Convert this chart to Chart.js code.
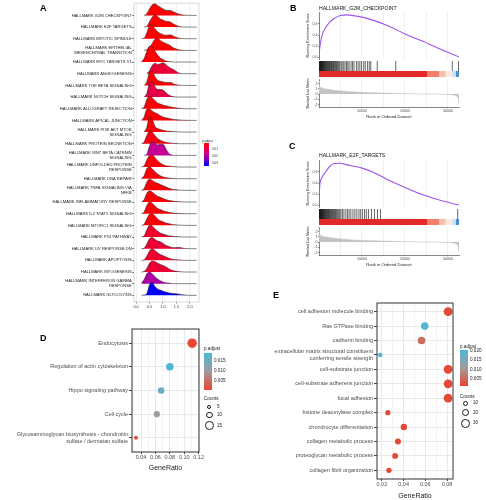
<!DOCTYPE html>
<html>
<head>
<meta charset="utf-8">
<script src="https://cdn.jsdelivr.net/npm/chart.js@4.4.1/dist/chart.umd.min.js"></script>
<style>
  body { margin: 0; background: #fff; }
  #fig { position: relative; width: 486px; height: 500px; overflow: hidden; font-family: "Liberation Sans", Arial, sans-serif; }
  #fig canvas { position: absolute; }
  .t { position: absolute; white-space: nowrap; line-height: 1; color: #222; transform-origin: 0 0; }
  .dot { position: absolute; border: 0.7px solid #1a1a1a; border-radius: 50%; box-sizing: border-box; background: #fff; }
  .bar { position: absolute; }
</style>
</head>
<body>
<div id="fig"></div>
<script>
// ---------- panel A: ridgeline of hallmark gene sets ----------
const RIDGE_TERMS = [
  'HALLMARK G2M CHECKPOINT', 'HALLMARK E2F TARGETS', 'HALLMARK MITOTIC SPINDLE',
  ['HALLMARK EPITHELIAL', 'MESENCHYMAL TRANSITION'], 'HALLMARK MYC TARGETS V1',
  'HALLMARK ANGIOGENESIS', 'HALLMARK TGF BETA SIGNALING', 'HALLMARK NOTCH SIGNALING',
  'HALLMARK ALLOGRAFT REJECTION', 'HALLMARK APICAL JUNCTION', ['HALLMARK PI3K AKT MTOR', 'SIGNALING'],
  'HALLMARK PROTEIN SECRETION', ['HALLMARK WNT BETA CATENIN', 'SIGNALING'],
  ['HALLMARK UNFOLDED PROTEIN', 'RESPONSE'], 'HALLMARK DNA REPAIR', ['HALLMARK TNFA SIGNALING VIA', 'NFKB'],
  'HALLMARK INFLAMMATORY RESPONSE', 'HALLMARK IL2 STAT5 SIGNALING', 'HALLMARK MTORC1 SIGNALING',
  'HALLMARK P53 PATHWAY', 'HALLMARK UV RESPONSE DN', 'HALLMARK APOPTOSIS', 'HALLMARK MYOGENESIS',
  ['HALLMARK INTERFERON GAMMA', 'RESPONSE'], 'HALLMARK GLYCOLYSIS'
];
const RIDGE_P = [0.0015, 0.0015, 0.0015, 0.0015, 0.0015, 0.007, 0.002, 0.009, 0.002, 0.002, 0.002, 0.003,
  0.018, 0.002, 0.002, 0.002, 0.002, 0.002, 0.002, 0.006, 0.007, 0.006, 0.007, 0.02, 0.0343];
const RIDGE_X = [0.2, 0.3, 0.4, 0.5, 0.6, 0.7, 0.8, 0.9, 1.0, 1.1, 1.2, 1.3, 1.4, 1.6, 1.8, 2.0, 2.25];
const RIDGE_H = [
  [null, 0, 0.15, 0.55, 0.9, 1.0, 0.85, 0.7, 0.55, 0.45, 0.42, 0.4, 0.3, 0.1, 0.02, 0, 0],
  [null, 0, 0.05, 0.45, 0.85, 1.05, 0.9, 0.7, 0.6, 0.5, 0.48, 0.4, 0.25, 0.05, 0, 0, 0],
  [0, 0.05, 0.5, 1.1, 1.15, 0.85, 0.6, 0.45, 0.35, 0.3, 0.32, 0.33, 0.2, 0.05, 0, 0, 0],
  [null, 0, 0.05, 0.25, 0.6, 0.95, 1.05, 0.85, 0.7, 0.6, 0.5, 0.35, 0.2, 0.05, 0, 0, 0],
  [0.02, 0.3, 0.9, 1.35, 1.3, 0.95, 0.6, 0.35, 0.2, 0.1, 0.05, 0.02, 0, 0, 0, 0, 0],
  [null, null, 0, 0.25, 0.7, 0.9, 0.8, 0.85, 0.95, 0.8, 0.6, 0.45, 0.35, 0.05, 0, 0, 0],
  [null, 0, 0.3, 1.1, 1.2, 0.75, 0.45, 0.35, 0.3, 0.25, 0.25, 0.25, 0.12, 0.02, 0, 0, 0],
  [null, 0, 0.3, 1.2, 1.3, 0.9, 0.65, 0.65, 0.6, 0.4, 0.2, 0.08, 0.02, 0, 0, 0, 0],
  [0, 0.15, 0.8, 1.1, 0.95, 0.7, 0.5, 0.4, 0.3, 0.25, 0.2, 0.15, 0.1, 0.03, 0, 0, 0],
  [0, 0.3, 0.95, 1.0, 0.8, 0.65, 0.55, 0.4, 0.3, 0.22, 0.18, 0.12, 0.08, 0.04, 0.01, 0, 0],
  [null, 0, 0.4, 1.35, 1.1, 0.5, 0.3, 0.22, 0.15, 0.1, 0.07, 0.05, 0.03, 0.01, 0, 0, 0],
  [0, 0.15, 0.7, 1.1, 1.0, 0.7, 0.45, 0.3, 0.2, 0.12, 0.08, 0.05, 0.03, 0, 0, 0, 0],
  [null, 0, 0.1, 0.8, 1.15, 1.05, 0.9, 0.95, 0.95, 0.6, 0.2, 0.05, 0, 0, 0, 0, 0],
  [0, 0.1, 0.6, 1.0, 1.05, 0.8, 0.55, 0.35, 0.2, 0.12, 0.08, 0.05, 0.03, 0, 0, 0, 0],
  [0, 0.25, 0.85, 1.0, 0.85, 0.6, 0.4, 0.25, 0.15, 0.1, 0.06, 0.03, 0.01, 0, 0, 0, 0],
  [0, 0.15, 0.7, 0.95, 0.85, 0.7, 0.6, 0.5, 0.4, 0.3, 0.2, 0.12, 0.07, 0.02, 0, 0, 0],
  [0, 0.2, 0.75, 0.95, 0.85, 0.65, 0.5, 0.4, 0.3, 0.22, 0.15, 0.1, 0.06, 0.02, 0, 0, 0],
  [0, 0.15, 0.7, 1.0, 0.9, 0.65, 0.45, 0.35, 0.25, 0.18, 0.12, 0.08, 0.05, 0.01, 0, 0, 0],
  [0, 0.1, 0.55, 0.95, 1.0, 0.8, 0.55, 0.4, 0.3, 0.2, 0.15, 0.1, 0.06, 0.02, 0, 0, 0],
  [0, 0.1, 0.6, 1.0, 0.95, 0.7, 0.5, 0.35, 0.25, 0.18, 0.12, 0.08, 0.05, 0.02, 0, 0, 0],
  [0, 0.05, 0.4, 0.85, 0.95, 0.8, 0.65, 0.6, 0.45, 0.3, 0.2, 0.12, 0.08, 0.1, 0.02, 0, 0],
  [0, 0.05, 0.35, 0.8, 1.0, 0.85, 0.65, 0.5, 0.4, 0.3, 0.2, 0.12, 0.08, 0.03, 0, 0, 0],
  [0, 0.05, 0.3, 0.75, 0.95, 0.9, 0.75, 0.65, 0.55, 0.45, 0.3, 0.18, 0.1, 0.03, 0, 0, 0],
  [0.05, 0.35, 0.85, 1.0, 0.85, 0.6, 0.4, 0.25, 0.15, 0.08, 0.05, 0.02, 0, 0, 0, 0, 0],
  [0, 0.02, 0.15, 0.9, 1.1, 0.75, 0.55, 0.45, 0.35, 0.28, 0.22, 0.18, 0.15, 0.1, 0.03, 0, 0]
];
const RIDGE_TICKS = [0, 0.5, 1.0, 1.5, 2.0];

// ---------- panels B / C: GSEA running score ----------
const N_GENES = 32560;
const ES_RANK = [0, 150, 700, 1500, 2500, 3500, 5000, 6500, 8500, 10000, 12500, 16000, 20000, 24000, 28000, 32560];
const ES_G2M = [0, 0.15, 0.39, 0.53, 0.635, 0.7, 0.755, 0.765, 0.745, 0.725, 0.67, 0.57, 0.42, 0.29, 0.15, 0];
const ES_E2F = [0, 0.33, 0.5, 0.6, 0.7, 0.755, 0.76, 0.73, 0.7, 0.67, 0.6, 0.46, 0.32, 0.19, 0.09, 0];
const ES_TICKS = [0, 0.2, 0.4, 0.6];
const HITS_G2M = [30, 90, 160, 240, 310, 390, 470, 560, 640, 730, 820, 920, 1010, 1120, 1220, 1330, 1440, 1560,
  1680, 1800, 1930, 2060, 2190, 2330, 2470, 2610, 2760, 2910, 3060, 3220, 3380, 3540, 3710, 3880, 4060, 4250,
  4450, 4650, 4850, 5150, 5400, 5750, 6050, 6400, 6700, 7000, 7450, 7800, 8150, 8700, 9100, 9500, 9900,
  10400, 10750, 11300, 11700, 12050, 13550, 17850, 31000, 32450];
const HITS_E2F = [20, 80, 150, 220, 300, 380, 460, 540, 630, 720, 810, 900, 1000, 1100, 1210, 1320, 1430, 1550,
  1670, 1790, 1920, 2050, 2190, 2330, 2480, 2630, 2790, 2950, 3110, 3280, 3450, 3630, 3810, 4000, 4200, 4400,
  4620, 4850, 5100, 5450, 5800, 6250, 6650, 7000, 7400, 7900, 8350, 8800, 9300, 9700, 10100, 10600, 11000,
  11500, 12200, 12900, 13600, 14300, 32250];
const BAND_START = [0, 25200, 27900, 29460, 31000, 31800];
const BAND_END = [25200, 27900, 29460, 31000, 31800, 32560];
const METRIC_RANK = [0, 100, 400, 1000, 2000, 3500, 5000, 7000, 9000, 12000, 15000, 18000, 21000, 24000, 27000,
  29000, 30500, 31500, 32100, 32400, 32560];
const METRIC_VAL = [2.4, 1.5, 1.25, 1.05, 0.9, 0.72, 0.58, 0.46, 0.36, 0.26, 0.18, 0.12, 0.07, 0.03, 0,
  -0.04, -0.1, -0.2, -0.4, -0.8, -2.1];
const METRIC_TICKS = [-2, -1, 0, 1, 2];
const RANK_GRID = [5000, 10000, 15000, 20000, 25000, 30000];
const RANK_TICKS = [10000, 20000, 30000];

// ---------- panel D: KEGG dot plot ----------
const D_TERMS = ['Endocytosis', 'Regulation of actin cytoskeleton', 'Hippo signaling pathway', 'Cell cycle',
  ['Glycosaminoglycan biosynthesis - chondroitin', 'sulfate / dermatan sulfate']];
const D_RATIO = [0.111, 0.080, 0.068, 0.062, 0.033];
const D_COUNT = [17, 12, 10, 9, 5];
const D_PADJ = [0.0008, 0.0185, 0.0158, 0.0108, 0.0015];
const D_GRID = [0.03, 0.04, 0.05, 0.06, 0.07, 0.08, 0.09, 0.10, 0.11, 0.12];
const D_TICKS = [0.04, 0.06, 0.08, 0.10, 0.12];

// ---------- panel E: GO dot plot ----------
const E_TERMS = ['cell adhesion molecule binding', 'Ras GTPase binding', 'cadherin binding',
  ['extracellular matrix structural constituent', 'conferring tensile strength'], 'cell-substrate junction',
  'cell-substrate adherens junction', 'focal adhesion', 'histone deacetylase complex',
  'chondrocyte differentiation', 'collagen metabolic process', 'proteoglycan metabolic process',
  'collagen fibril organization'];
const E_RATIO = [0.081, 0.0595, 0.0565, 0.0185, 0.081, 0.081, 0.081, 0.0255, 0.0402, 0.0348, 0.0322, 0.0265];
const E_COUNT = [30, 22, 21, 7, 30, 30, 30, 9, 15, 13, 12, 10];
const E_PADJ = [0.0015, 0.0195, 0.0055, 0.0195, 0.0015, 0.0015, 0.0015, 0.0015, 0.0015, 0.0015, 0.0015, 0.0015];
const E_GRID = [0.02, 0.03, 0.04, 0.05, 0.06, 0.07, 0.08];
const E_TICKS = [0.02, 0.04, 0.06, 0.08];

// ---------- helpers ----------
Chart.defaults.font.family = '"Liberation Sans", Arial, sans-serif';
Chart.defaults.color = '#333';
const fig = document.getElementById('fig');

function addCanvas(x, y, w, h) {
  const c = document.createElement('canvas');
  c.width = w; c.height = h;
  c.style.left = x + 'px'; c.style.top = y + 'px';
  c.style.width = w + 'px'; c.style.height = h + 'px';
  fig.appendChild(c);
  return c;
}

// tiny text is rendered large then scaled down so no minimum font size kicks in
function text(str, x, y, size, opt = {}) {
  const d = document.createElement('div');
  d.className = 't';
  d.textContent = str;
  d.style.left = x + 'px';
  d.style.top = y + 'px';
  d.style.fontSize = (size * 4) + 'px';
  const ax = opt.align === 'right' ? '-100%' : opt.align === 'center' ? '-50%' : '0';
  d.style.transform = `scale(0.25) translate(${ax}, -50%)`;
  if (opt.bold) d.style.fontWeight = 'bold';
  if (opt.color) d.style.color = opt.color;
  fig.appendChild(d);
}

function circle(cx, cy, r) {
  const d = document.createElement('div');
  d.className = 'dot';
  d.style.left = (cx - r) + 'px'; d.style.top = (cy - r) + 'px';
  d.style.width = (2 * r) + 'px'; d.style.height = (2 * r) + 'px';
  fig.appendChild(d);
}

function gradientBar(x, y, w, h, css) {
  const d = document.createElement('div');
  d.className = 'bar';
  Object.assign(d.style, { left: x + 'px', top: y + 'px', width: w + 'px', height: h + 'px', background: css });
  fig.appendChild(d);
}

function mix(a, b, t) { return a.map((v, i) => Math.round(v + (b[i] - v) * t)); }
function mix3(lo, mid, hi, t) {
  t = Math.max(0, Math.min(1, t));
  const c = t < 0.5 ? mix(lo, mid, t * 2) : mix(mid, hi, (t - 0.5) * 2);
  return `rgb(${c[0]},${c[1]},${c[2]})`;
}
const ridgeColor = p => mix3([255, 0, 0], [200, 0, 150], [0, 0, 255], (p - 0.00143) / (0.0343 - 0.00143));
const dotColor = (p, lo, hi) => mix3([232, 69, 47], [160, 156, 156], [77, 184, 216], (p - lo) / (hi - lo));
const isIn = (list, v) => list.some(t => Math.abs(t - v) < 1e-9);

const framePlugin = {
  id: 'frame',
  beforeDatasetsDraw(chart, args, opts) { if (opts.before) drawFrame(chart, opts); },
  afterDraw(chart, args, opts) { if (!opts.before) drawFrame(chart, opts); }
};
function drawFrame(chart, opts) {
  const { ctx, chartArea: a } = chart;
  ctx.save();
  ctx.strokeStyle = opts.color;
  ctx.lineWidth = opts.width;
  ctx.strokeRect(a.left, a.top, a.right - a.left, a.bottom - a.top);
  ctx.restore();
}

function baseOptions(pad) {
  return {
    responsive: false, animation: false, events: [],
    layout: { padding: pad, autoPadding: false },
    plugins: { legend: { display: false }, tooltip: { enabled: false } }
  };
}

// ---------- panel A ----------
const lastRidge = RIDGE_TERMS.length - 1;
const optA = baseOptions({ top: 2, right: 41, left: 0, bottom: 0 });
optA.plugins.frame = { color: '#cfcfcf', width: 0.8, before: true };
optA.scales = {
  x: {
    type: 'linear', min: -0.075, max: 2.335,
    afterBuildTicks: s => { s.ticks = RIDGE_TICKS.map(v => ({ value: v })); },
    afterFit: s => { s.height = 10; },
    ticks: { font: { size: 3.8 }, color: '#333', padding: 1, maxRotation: 0, autoSkip: false, callback: v => v.toFixed(1) },
    grid: { color: '#e4e4e4', lineWidth: 0.6, tickLength: 1.5, tickColor: '#333' },
    border: { display: false }
  },
  y: {
    type: 'linear', min: -0.57, max: 25.05,
    afterBuildTicks: s => { s.ticks = RIDGE_TERMS.map((_, i) => ({ value: lastRidge - i })); },
    afterFit: s => { s.width = 134; },
    ticks: { font: { size: 4.1, lineHeight: 1.15 }, color: '#222', padding: 0.8, autoSkip: false,
      callback: v => RIDGE_TERMS[lastRidge - v] },
    grid: { drawOnChartArea: false, tickLength: 1.5, color: '#333' },
    border: { display: false }
  }
};
new Chart(addCanvas(0, 0, 240, 312), {
  type: 'line',
  data: {
    datasets: RIDGE_H.map((h, i) => {
      const base = lastRidge - i;
      return {
        data: RIDGE_X.map((x, j) => ({ x, y: h[j] === null ? null : base + h[j] })),
        fill: { value: base },
        backgroundColor: ridgeColor(RIDGE_P[i]),
        borderColor: '#1f1f1f', borderWidth: 0.55, pointRadius: 0,
        cubicInterpolationMode: 'monotone', order: base
      };
    })
  },
  options: optA,
  plugins: [framePlugin]
});
text('A', 39.5, 7.5, 9, { bold: true, color: '#000' });
text('p.adjust', 202, 140.5, 3);
gradientBar(204, 143, 5, 23, 'linear-gradient(to bottom, #ff0000, #c80096, #0000ff)');
text('0.01', 211.5, 149, 3);
text('0.02', 211.5, 156, 3);
text('0.03', 211.5, 163, 3);

// ---------- panels B / C ----------
function gseaPanel(dy, es, hits) {
  // running enrichment score
  const o1 = baseOptions({ top: 12, right: 27, left: 0, bottom: 0 });
  o1.scales = {
    x: {
      type: 'linear', min: 0, max: N_GENES,
      afterBuildTicks: s => { s.ticks = RANK_GRID.map(v => ({ value: v })); },
      afterFit: s => { s.height = 3; },
      ticks: { display: false },
      grid: { color: '#ebebeb', lineWidth: 0.8, drawTicks: false },
      border: { display: false }
    },
    y: {
      type: 'linear', min: -0.036, max: 0.818,
      afterBuildTicks: s => { s.ticks = ES_TICKS.map(v => ({ value: v })); },
      afterFit: s => { s.width = 19; },
      ticks: { font: { size: 3.6 }, color: '#4d4d4d', padding: 0.5, autoSkip: false, callback: v => v.toFixed(1) },
      grid: { drawOnChartArea: false, tickLength: 1, color: '#333', tickWidth: 0.6 },
      border: { display: true, color: '#333', width: 0.6 },
      title: { display: true, text: 'Running Enrichment Score', font: { size: 3.7 }, color: '#222', padding: { top: 5.8 } }
    }
  };
  new Chart(addCanvas(300, dy, 186, 62), {
    type: 'line',
    data: { datasets: [{ data: ES_RANK.map((x, i) => ({ x, y: es[i] })), borderColor: '#A052EE', borderWidth: 1.1,
      pointRadius: 0, cubicInterpolationMode: 'monotone', fill: false }] },
    options: o1
  });

  // hit barcode and ranked list colour band
  const bandShades = ['#E2282B', '#F47F68', '#F9BFAE', '#FCE8E1', '#C9DDEE', '#4C8EC6'];
  const o2 = baseOptions({ top: 1, right: 27, left: 19, bottom: 1 });
  o2.scales = {
    x: { type: 'linear', min: 0, max: N_GENES, display: false },
    y: { type: 'linear', min: 0, max: 16, display: false }
  };
  new Chart(addCanvas(300, dy + 60, 186, 18), {
    type: 'scatter',
    data: {
      datasets: [
        { data: hits.map(x => ({ x, y: 11 })), pointStyle: 'line', pointRotation: 90, pointRadius: 5,
          pointBorderColor: '#000', borderColor: '#000', pointBorderWidth: 0.6, borderWidth: 0.6 }
      ].concat(BAND_START.map((s, i) => ({
        type: 'line', data: [{ x: s, y: 3 }, { x: BAND_END[i], y: 3 }], showLine: true,
        borderColor: bandShades[i], borderWidth: 6, borderCapStyle: 'butt', pointRadius: 0
      })))
    },
    options: o2
  });

  // ranked list metric
  const o3 = baseOptions({ top: 1, right: 27, left: 0, bottom: 0 });
  o3.scales = {
    x: {
      type: 'linear', min: 0, max: N_GENES,
      afterBuildTicks: s => { s.ticks = RANK_GRID.map(v => ({ value: v })); },
      afterFit: s => { s.height = 12; },
      ticks: { font: { size: 3.6 }, color: '#4d4d4d', padding: 0.8, maxRotation: 0, autoSkip: false,
        callback: v => (RANK_TICKS.includes(v) ? String(v) : '') },
      grid: { color: '#ebebeb', lineWidth: 0.8, tickLength: 1.2,
        tickColor: c => (RANK_TICKS.includes(c.tick.value) ? '#333' : 'rgba(0,0,0,0)') },
      border: { display: true, color: '#333', width: 0.6 },
      title: { display: true, text: 'Rank in Ordered Dataset', font: { size: 4.1 }, color: '#222', padding: 0 }
    },
    y: {
      type: 'linear', min: -2.45, max: 2.73,
      afterBuildTicks: s => { s.ticks = METRIC_TICKS.map(v => ({ value: v })); },
      afterFit: s => { s.width = 19; },
      ticks: { font: { size: 3.6 }, color: '#4d4d4d', padding: 0.5, autoSkip: false, callback: v => String(v) },
      grid: { drawOnChartArea: false, tickLength: 1, color: '#333', tickWidth: 0.6 },
      border: { display: true, color: '#333', width: 0.6 },
      title: { display: true, text: 'Ranked List Metric', font: { size: 3.7 }, color: '#222', padding: { top: 5.8 } }
    }
  };
  new Chart(addCanvas(300, dy + 77, 186, 42), {
    type: 'line',
    data: { datasets: [{ data: METRIC_RANK.map((x, i) => ({ x, y: METRIC_VAL[i] })), fill: 'origin',
      backgroundColor: '#c4c4c4', borderColor: '#bdbdbd', borderWidth: 0.5, pointRadius: 0, tension: 0 }] },
    options: o3
  });
}
gseaPanel(0, ES_G2M, HITS_G2M);
gseaPanel(148, ES_E2F, HITS_E2F);
text('B', 289.5, 7.5, 9, { bold: true, color: '#000' });
text('HALLMARK_G2M_CHECKPOINT', 319, 7.5, 5.1, { color: '#111' });
text('C', 289, 145.5, 9, { bold: true, color: '#000' });
text('HALLMARK_E2F_TARGETS', 319, 155.3, 5.1, { color: '#111' });

// ---------- dot plots D / E ----------
function dotOptions(pad, xmin, xmax, grid, ticks, ymax, yWidth, xHeight, labels) {
  const o = baseOptions(pad);
  o.plugins.frame = { color: '#333', width: 1 };
  o.scales = {
    x: {
      type: 'linear', min: xmin, max: xmax,
      afterBuildTicks: s => { s.ticks = grid.map(v => ({ value: v })); },
      afterFit: s => { s.height = xHeight; },
      ticks: { font: { size: 5.5 }, color: '#4d4d4d', padding: 0, maxRotation: 0, autoSkip: false,
        callback: v => (isIn(ticks, v) ? v.toFixed(2) : '') },
      grid: { color: '#e6e6e6', lineWidth: c => (isIn(ticks, c.tick.value) ? 0.9 : 0.5), tickLength: 2,
        tickColor: c => (isIn(ticks, c.tick.value) ? '#333' : 'rgba(0,0,0,0)') },
      border: { display: false },
      title: { display: true, text: 'GeneRatio', font: { size: 7 }, color: '#1a1a1a', padding: 0 }
    },
    y: {
      type: 'linear', reverse: true, min: -0.6, max: ymax,
      afterBuildTicks: s => { s.ticks = labels.map((_, i) => ({ value: i })); },
      afterFit: s => { s.width = yWidth; },
      ticks: { font: { size: 5.5, lineHeight: 1.2 }, color: '#4d4d4d', padding: 1, autoSkip: false,
        callback: v => labels[v] },
      grid: { color: '#e6e6e6', lineWidth: 0.9, tickLength: 3, tickColor: '#333' },
      border: { display: false }
    }
  };
  return o;
}

const dRadius = c => -1.22 + 1.44 * Math.sqrt(c);
new Chart(addCanvas(0, 320, 240, 152), {
  type: 'scatter',
  data: { datasets: [{ data: D_RATIO.map((x, i) => ({ x, y: i })),
    pointRadius: D_COUNT.map(dRadius), pointBorderWidth: 0,
    pointBackgroundColor: D_PADJ.map(p => dotColor(p, 0.0005, 0.019)) }] },
  options: dotOptions({ top: 9, right: 41, left: 0, bottom: 0 }, 0.0275, 0.1205, D_GRID, D_TICKS, 4.6, 132, 20, D_TERMS),
  plugins: [framePlugin]
});
text('D', 39.5, 338.3, 9, { bold: true, color: '#000' });
text('p.adjust', 204, 349.3, 4.6);
gradientBar(204, 353.3, 7.5, 36.7, 'linear-gradient(to bottom, rgb(77,184,216), rgb(160,156,156), rgb(232,69,47))');
text('0.015', 214, 360.7, 4.6);
text('0.010', 214, 370.7, 4.6);
text('0.005', 214, 380.7, 4.6);
text('Counts', 204, 399.3, 4.6);
[[5, 407.3], [10, 415], [15, 425.7]].forEach(([c, y]) => { circle(209.3, y, dRadius(c)); text(String(c), 217, y, 4.6); });

const eRadius = c => 0.3 + 0.75 * Math.sqrt(c);
new Chart(addCanvas(240, 290, 246, 210), {
  type: 'scatter',
  data: { datasets: [{ data: E_RATIO.map((x, i) => ({ x, y: i })),
    pointRadius: E_COUNT.map(eRadius), pointBorderWidth: 0,
    pointBackgroundColor: E_PADJ.map(p => dotColor(p, 0.001, 0.0205)) }] },
  options: dotOptions({ top: 13, right: 33, left: 0, bottom: 0 }, 0.0155, 0.0855, E_GRID, E_TICKS, 11.6, 137, 21, E_TERMS),
  plugins: [framePlugin]
});
text('E', 273, 295, 9, { bold: true, color: '#000' });
text('p.adjust', 460, 346.7, 4.6);
gradientBar(460, 350, 7.5, 36, 'linear-gradient(to bottom, rgb(77,184,216), rgb(160,156,156), rgb(232,69,47))');
text('0.020', 470, 351, 4.6);
text('0.015', 470, 360.3, 4.6);
text('0.010', 470, 369.5, 4.6);
text('0.005', 470, 378.8, 4.6);
text('Counts', 460, 396.7, 4.6);
[[10, 403.3], [20, 412.7], [30, 423.3]].forEach(([c, y]) => { circle(465.7, y, eRadius(c)); text(String(c), 473.3, y, 4.6); });
</script>
</body>
</html>
